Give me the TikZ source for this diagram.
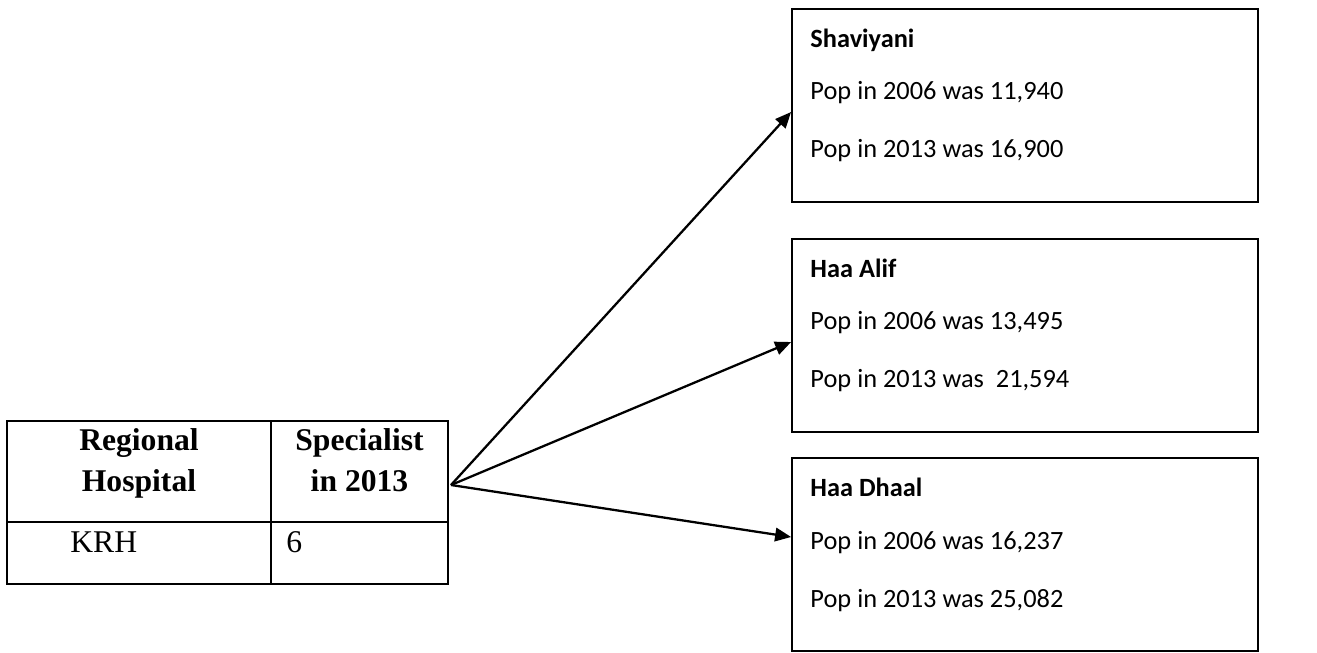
\documentclass[tikz,border=0pt]{standalone}
\usepackage{fontspec}
\setmainfont{Liberation Serif}
\newfontfamily\calibri{Carlito}
\usetikzlibrary{arrows.meta}

\tikzstyle{cellNode}=[draw,rectangle,line width=1.4pt,inner sep=0pt]
\tikzstyle{districtNode}=[draw,rectangle,line width=1pt,inner sep=0pt,minimum width=9.32cm,minimum height=3.86cm]
\tikzstyle{boxText}=[anchor=base west,inner sep=0pt,font=\calibri\fontsize{15}{18}\selectfont]
\tikzstyle{tableText}=[inner sep=0pt,font=\fontsize{18}{23.3}\selectfont]
\tikzstyle{popArrow}=[-{Triangle[length=0.32cm,width=0.27cm]}, line width=1.3pt]

\begin{document}
\begin{tikzpicture}
		\useasboundingbox (0,0) rectangle (26.34,-13.04);
		
		\node[cellNode,minimum width=5.28cm,minimum height=2.02cm] (hospHead) at (2.78,-9.43) {};
		\node[cellNode,minimum width=3.54cm,minimum height=2.02cm] (specHead) at (7.19,-9.43) {};
		\node[cellNode,minimum width=5.28cm,minimum height=1.24cm] (hospCell) at (2.78,-11.06) {};
		\node[cellNode,minimum width=3.54cm,minimum height=1.24cm] (specCell) at (7.19,-11.06) {};
		
		\node[tableText,font=\bfseries\fontsize{18}{23.3}\selectfont,align=center,anchor=base] (hospTitle) at (2.78,-9.82) {Regional\\Hospital};
		\node[tableText,font=\bfseries\fontsize{18}{23.3}\selectfont,align=center,anchor=base] (specTitle) at (7.19,-9.82) {Specialist\\in 2013};
		\node[tableText,anchor=base west] (hospName) at (1.40,-11.04) {KRH};
		\node[tableText,anchor=base west] (specCount) at (5.72,-11.04) {6};
		
		\node[districtNode] (shav) at (20.5,-2.11) {};
		\node[districtNode] (alif) at (20.5,-6.71) {};
		\node[districtNode] (dhaal) at (20.5,-11.09) {};
		
		\node[boxText,font=\calibri\bfseries\fontsize{15}{18}\selectfont] (shavName) at ([xshift=0.38cm,yshift=-0.78cm]shav.north west) {Shaviyani};
		\node[boxText] (shavOld) at ([xshift=0.38cm,yshift=-1.82cm]shav.north west) {Pop in 2006 was 11,940};
		\node[boxText] (shavNew) at ([xshift=0.38cm,yshift=-2.98cm]shav.north west) {Pop in 2013 was 16,900};
		
		\node[boxText,font=\calibri\bfseries\fontsize{15}{18}\selectfont] (alifName) at ([xshift=0.38cm,yshift=-0.78cm]alif.north west) {Haa Alif};
		\node[boxText] (alifOld) at ([xshift=0.38cm,yshift=-1.82cm]alif.north west) {Pop in 2006 was 13,495};
		\node[boxText] (alifNew) at ([xshift=0.38cm,yshift=-2.98cm]alif.north west) {Pop in 2013 was \ 21,594};
		
		\node[boxText,font=\calibri\bfseries\fontsize{15}{18}\selectfont] (dhaalName) at ([xshift=0.38cm,yshift=-0.78cm]dhaal.north west) {Haa Dhaal};
		\node[boxText] (dhaalOld) at ([xshift=0.38cm,yshift=-1.84cm]dhaal.north west) {Pop in 2006 was 16,237};
		\node[boxText] (dhaalNew) at ([xshift=0.38cm,yshift=-3.00cm]dhaal.north west) {Pop in 2013 was 25,082};
		
		\coordinate (fork) at (9.02,-9.70);
		\draw[popArrow] (fork) -- ([yshift=-0.13cm]shav.west);
		\draw[popArrow] (fork) -- ([yshift=-0.13cm]alif.west);
		\draw[popArrow] (fork) -- ([yshift=0.35cm]dhaal.west);
		\end{tikzpicture}
\end{document}
